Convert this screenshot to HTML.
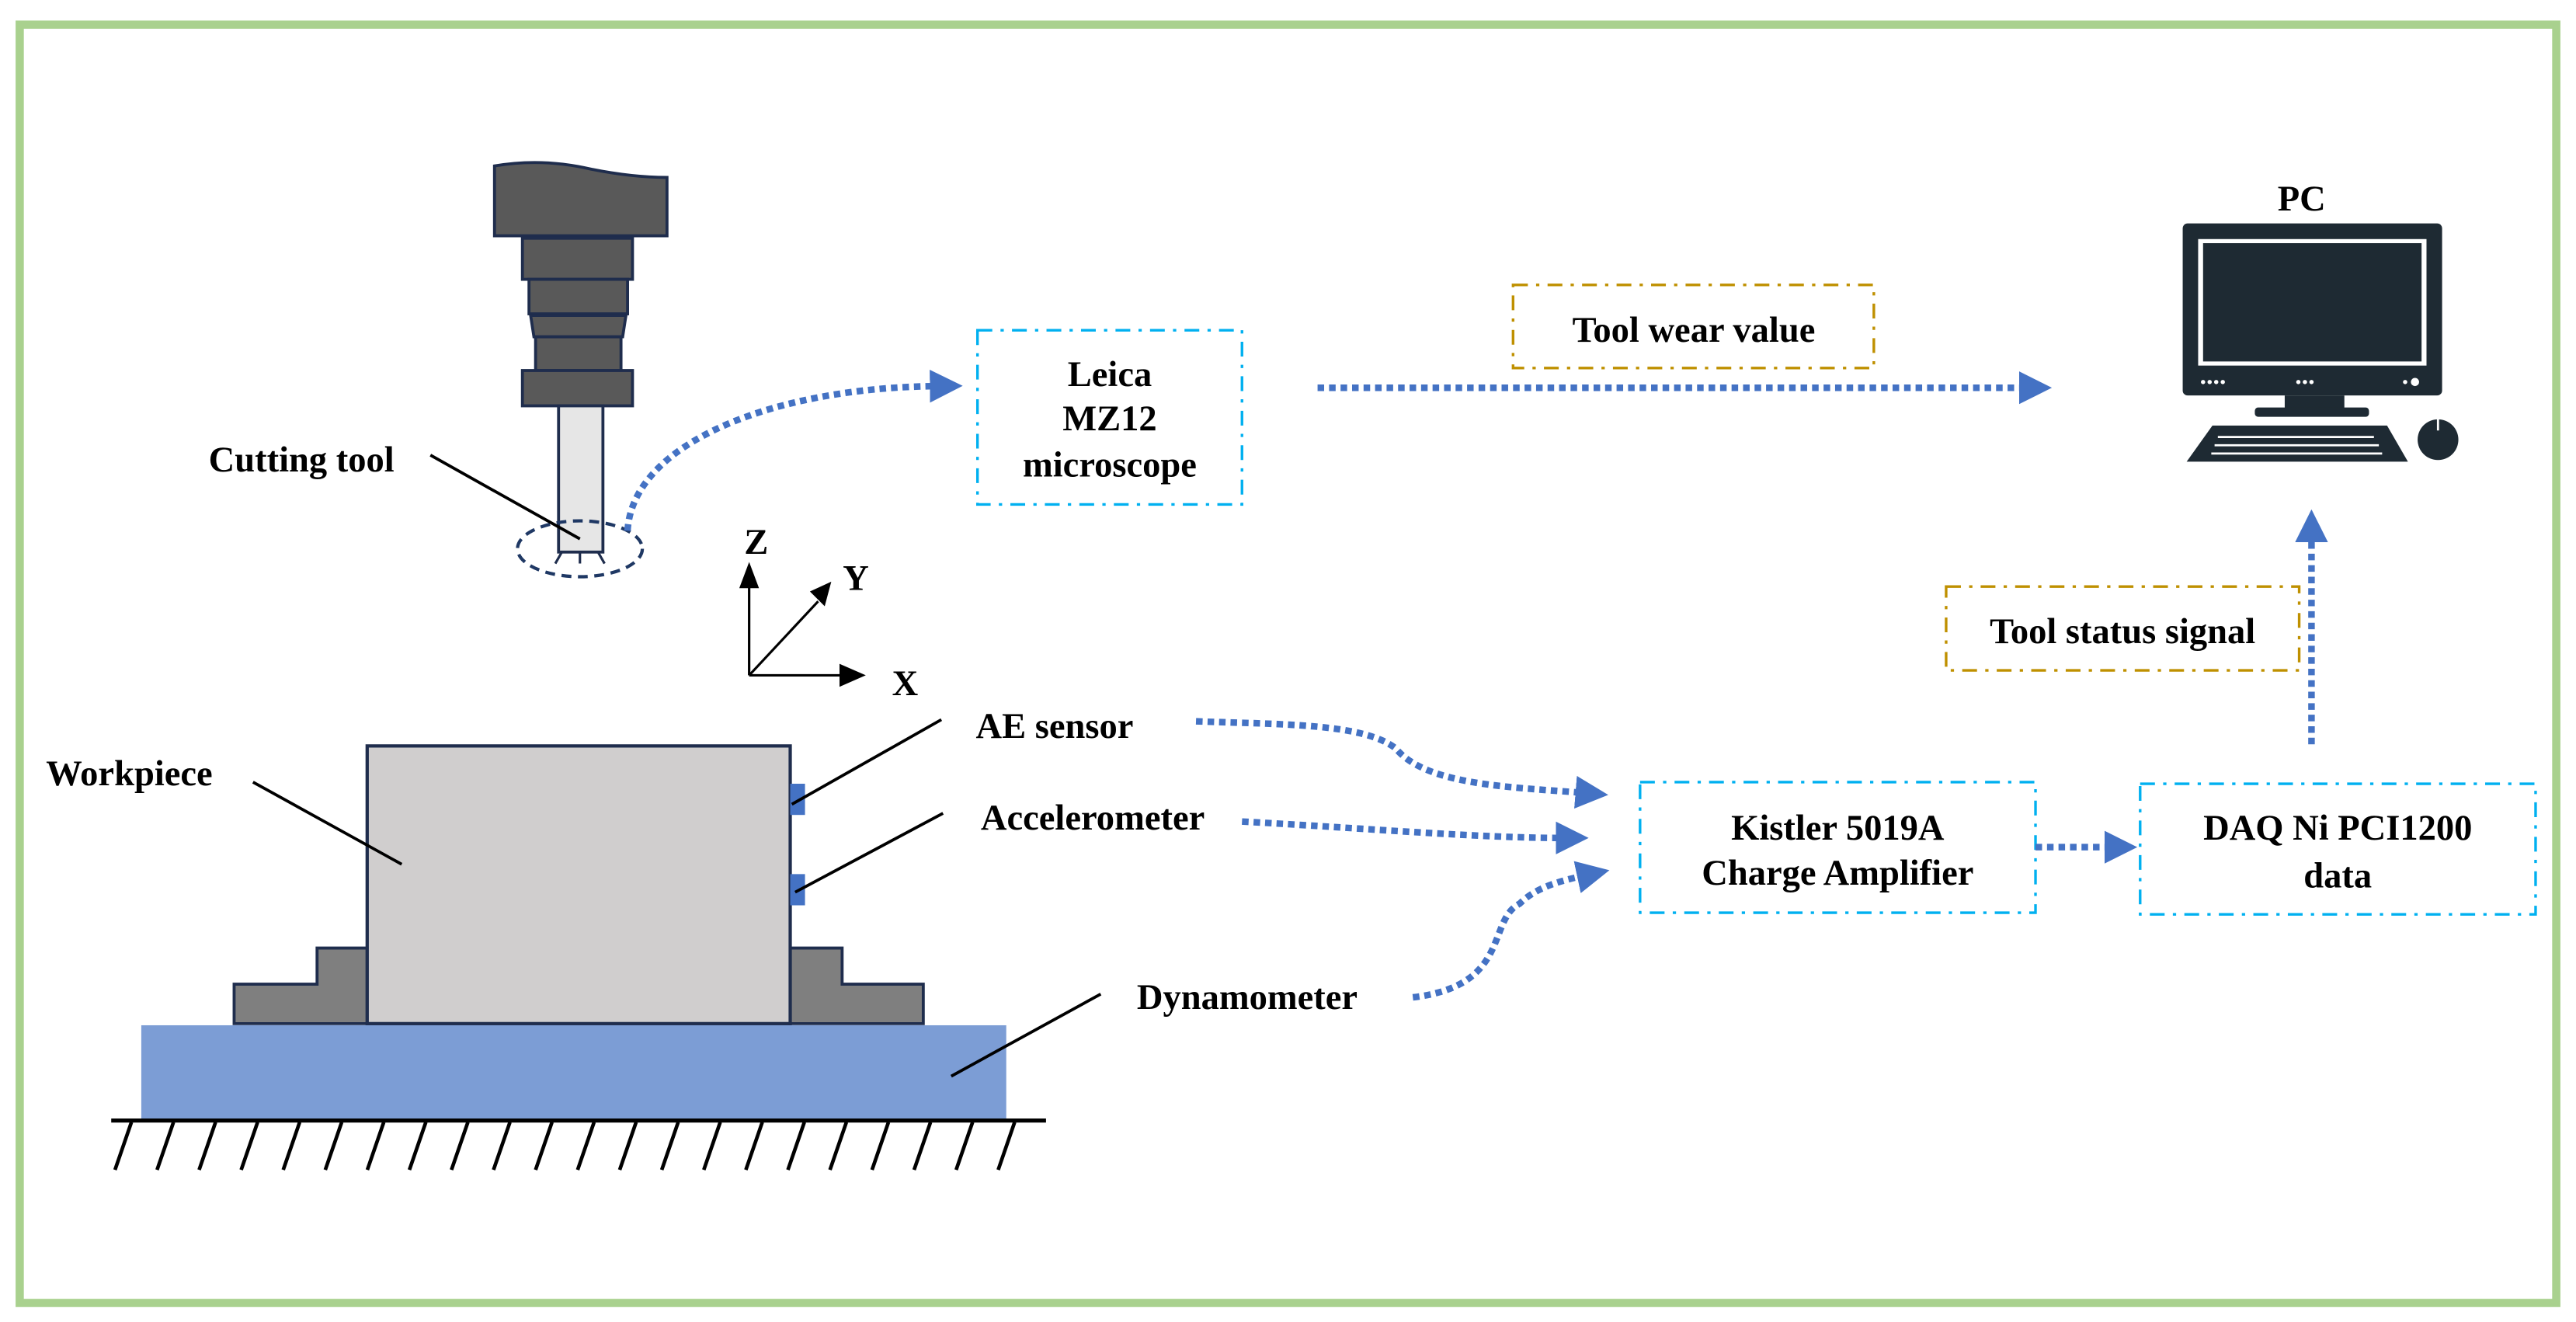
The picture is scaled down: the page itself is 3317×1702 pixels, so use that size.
<!DOCTYPE html>
<html><head><meta charset="utf-8"><style>
html,body{margin:0;padding:0;background:#fff;}
svg{display:block;}
text{font-family:"Liberation Serif",serif;font-weight:bold;fill:#000;font-size:22px;}
</style></head><body>
<svg width="3317" height="1702" viewBox="0 0 1568 804.6" preserveAspectRatio="none" xmlns="http://www.w3.org/2000/svg">
<defs>
<marker id="ah" markerWidth="5" markerHeight="5" refX="1" refY="2.5" orient="auto" markerUnits="strokeWidth">
<path d="M0,0 L5,2.5 L0,5 Z" fill="#4472c4"/>
</marker>
</defs>
<rect x="0" y="0" width="1568" height="804.6" fill="#fff"/>
<rect x="12" y="15" width="1544" height="778" fill="none" stroke="#a9d18e" stroke-width="5"/>

<!-- spindle -->
<g stroke="#1f2d4d" stroke-width="1.8" fill="#595959">
<path d="M301,101 Q330,96 360,103 Q385,108 406,108 L406,143.5 L301,143.5 Z"/>
<rect x="318" y="145" width="67" height="25"/>
<rect x="322" y="170" width="60" height="21"/>
<path d="M323,192 L381,192 L379,205 L325,205 Z"/>
<rect x="326" y="205" width="52" height="20.5"/>
<rect x="318" y="225.5" width="67" height="21.5"/>
</g>
<rect x="340" y="247" width="27" height="89" fill="#e6e6e6" stroke="#1f2d4d" stroke-width="1.8"/>
<path d="M342,336 L338,343 M353,336 L353,343 M364,336 L368,343" stroke="#1f2d4d" stroke-width="1.5"/>
<ellipse cx="353" cy="334" rx="38" ry="17" fill="none" stroke="#1f3864" stroke-width="2" stroke-dasharray="6 4"/>
<text x="127" y="287">Cutting tool</text>
<line x1="262" y1="277" x2="353" y2="328" stroke="#000" stroke-width="1.8"/>

<!-- axes -->
<g stroke="#000" stroke-width="1.5">
<line x1="456" y1="411" x2="456" y2="352"/>
<line x1="456" y1="411" x2="518" y2="411"/>
<line x1="456" y1="411" x2="498" y2="366"/>
</g>
<path d="M450,358 L456,342 L462,358 Z" fill="#000"/>
<path d="M511,404 L527,411 L511,418 Z" fill="#000"/>
<path d="M493,360 L506,354 L502,369 Z" fill="#000"/>
<text x="453" y="337">Z</text>
<text x="513" y="359">Y</text>
<text x="543" y="423">X</text>

<!-- workpiece -->
<rect x="86" y="624" width="526.5" height="58" fill="#7c9dd5"/>
<path d="M142.5,623 L142.5,599 L193,599 L193,577 L223.5,577 L223.5,623 Z" fill="#7f7f7f" stroke="#1f2d4d" stroke-width="1.8"/>
<path d="M481,623 L481,577 L512.6,577 L512.6,599 L562,599 L562,623 Z" fill="#7f7f7f" stroke="#1f2d4d" stroke-width="1.8"/>
<rect x="223.5" y="454" width="257.5" height="169" fill="#d0cece" stroke="#1f2d4d" stroke-width="2"/>
<rect x="481" y="477" width="9" height="19" fill="#4472c4"/>
<rect x="481" y="532" width="9" height="19" fill="#4472c4"/>
<line x1="67.7" y1="682" x2="636.7" y2="682" stroke="#000" stroke-width="2.5"/>
<g stroke="#000" stroke-width="2.2">
<line x1="80" y1="683" x2="70" y2="712"/><line x1="105.6" y1="683" x2="95.6" y2="712"/>
<line x1="131.2" y1="683" x2="121.2" y2="712"/><line x1="156.8" y1="683" x2="146.8" y2="712"/>
<line x1="182.4" y1="683" x2="172.4" y2="712"/><line x1="208" y1="683" x2="198" y2="712"/>
<line x1="233.6" y1="683" x2="223.6" y2="712"/><line x1="259.2" y1="683" x2="249.2" y2="712"/>
<line x1="284.8" y1="683" x2="274.8" y2="712"/><line x1="310.4" y1="683" x2="300.4" y2="712"/>
<line x1="336" y1="683" x2="326" y2="712"/><line x1="361.6" y1="683" x2="351.6" y2="712"/>
<line x1="387.2" y1="683" x2="377.2" y2="712"/><line x1="412.8" y1="683" x2="402.8" y2="712"/>
<line x1="438.4" y1="683" x2="428.4" y2="712"/><line x1="464" y1="683" x2="454" y2="712"/>
<line x1="489.6" y1="683" x2="479.6" y2="712"/><line x1="515.2" y1="683" x2="505.2" y2="712"/>
<line x1="540.8" y1="683" x2="530.8" y2="712"/><line x1="566.4" y1="683" x2="556.4" y2="712"/>
<line x1="592" y1="683" x2="582" y2="712"/><line x1="617.6" y1="683" x2="607.6" y2="712"/>
</g>
<g stroke="#000" stroke-width="1.8">
<line x1="154" y1="476" x2="244.5" y2="526"/>
<line x1="482" y1="489.5" x2="573" y2="438"/>
<line x1="484" y1="543" x2="574" y2="495"/>
<line x1="579" y1="655" x2="670" y2="605"/>
</g>
<text x="28" y="478">Workpiece</text>
<text x="594" y="449">AE sensor</text>
<text x="597" y="505">Accelerometer</text>
<text x="692" y="614">Dynamometer</text>

<!-- boxes -->
<g fill="none" stroke="#00b0f0" stroke-width="1.6" stroke-dasharray="9 5 2 5">
<rect x="595" y="201" width="161" height="106"/>
<rect x="998.3" y="476" width="240.7" height="79.5"/>
<rect x="1302.7" y="477" width="240.7" height="79.5"/>
</g>
<g fill="none" stroke="#bf9000" stroke-width="1.6" stroke-dasharray="9 5 2 5">
<rect x="921" y="173.4" width="219.6" height="50.6"/>
<rect x="1184.6" y="357" width="214.9" height="51"/>
</g>
<g text-anchor="middle">
<text x="675.5" y="235">Leica</text>
<text x="675.5" y="262">MZ12</text>
<text x="675.5" y="290">microscope</text>
<text x="1031" y="208">Tool wear value</text>
<text x="1292" y="391.5">Tool status signal</text>
<text x="1118.6" y="511">Kistler 5019A</text>
<text x="1118.6" y="538.5">Charge Amplifier</text>
<text x="1423" y="511">DAQ Ni PCI1200</text>
<text x="1423" y="540">data</text>
<text x="1401" y="128">PC</text>
</g>

<!-- PC -->
<rect x="1328.6" y="136" width="157.9" height="104.7" rx="3" fill="#1e2a33"/>
<rect x="1338" y="145.5" width="139" height="77" fill="#fff"/>
<rect x="1341" y="148" width="133" height="72" fill="#1e2a33"/>
<g fill="#fff"><circle cx="1341" cy="232.5" r="1.3"/><circle cx="1345" cy="232.5" r="1.3"/><circle cx="1349" cy="232.5" r="1.3"/><circle cx="1353" cy="232.5" r="1.3"/>
<circle cx="1399" cy="232.5" r="1.3"/><circle cx="1403" cy="232.5" r="1.3"/><circle cx="1407" cy="232.5" r="1.3"/>
<circle cx="1464" cy="232.5" r="1.3"/><circle cx="1470" cy="232.5" r="2.5"/></g>
<rect x="1390.7" y="240.7" width="36.3" height="8" fill="#1e2a33"/>
<rect x="1372.5" y="248" width="69.5" height="5.7" rx="2" fill="#1e2a33"/>
<path d="M1346.7,259 L1453,259 L1465.7,281 L1331,281 Z" fill="#1e2a33"/>
<g stroke="#fff" stroke-width="1.3"><line x1="1350" y1="266" x2="1445" y2="266"/><line x1="1348" y1="271" x2="1448" y2="271"/><line x1="1346" y1="276" x2="1450" y2="276"/></g>
<circle cx="1484" cy="267.6" r="12.4" fill="#1e2a33"/>
<line x1="1484" y1="255" x2="1484" y2="262" stroke="#fff" stroke-width="1.3"/>

<!-- arrows -->
<g fill="none" stroke="#4472c4" stroke-width="4" stroke-dasharray="4 3" marker-end="url(#ah)">
<path d="M382,323 C385,270 470,236 570,235"/>
<path d="M802,236 L1233,236"/>
<path d="M1407,453 L1407,326"/>
<path d="M1239,515.6 L1285,515.6"/>
<path d="M728,439 C780,441 830,440 849.7,455.6 C868,478 920,479 963,482.5"/>
<path d="M756,500 C830,504 900,510 951,510"/>
<path d="M860,607 C920,600 905,560 925,550 C935,540 950,536 964,533"/>
</g>
</svg>
</body></html>
